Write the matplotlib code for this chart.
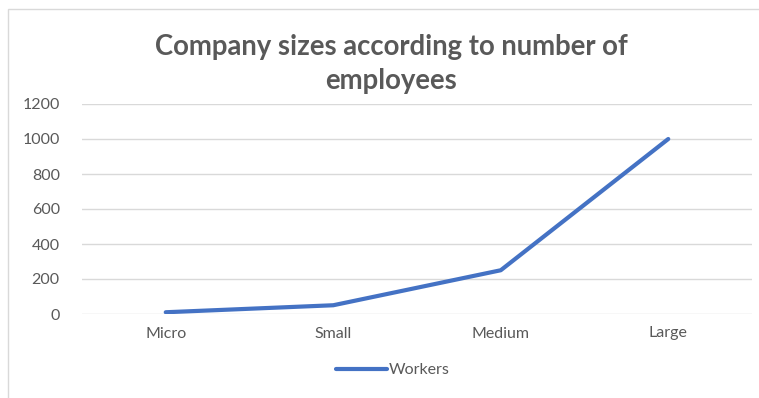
import matplotlib.pyplot as plt
from matplotlib.patches import Rectangle

categories = ["Micro", "Small", "Medium", "Large"]
workers = [10, 50, 250, 1000]
yticks = [0, 200, 400, 600, 800, 1000, 1200]

txt = "#595959"
plt.rcParams['font.family'] = ['Lato', 'DejaVu Sans']

fig = plt.figure(figsize=(7.59, 3.98), dpi=100)
ax = fig.add_axes([82 / 759, 1 - 314 / 398, 670 / 759, 210 / 398])

x = list(range(len(categories)))
ax.plot(x, workers, color="#4472C4", lw=3, solid_capstyle="round",
        solid_joinstyle="round", label="Workers")

ax.set_xlim(-0.5, len(categories) - 0.5)
ax.set_ylim(0, 1200)
ax.set_yticks(yticks)
ax.set_xticks(x)
ax.set_xticklabels(categories)
ax.grid(axis="y", color="#d9d9d9", lw=1)
ax.set_axisbelow(True)
for s in ax.spines.values():
    s.set_visible(False)
ax.tick_params(length=0, labelsize=11.5, labelcolor=txt)
ax.tick_params(axis="y", pad=16)
ax.tick_params(axis="x", pad=9)

fig.text(0.515, 1 - 64 / 398, "Company sizes according to number of\nemployees",
         ha="center", va="center", fontsize=19.8, fontweight="bold", color=txt,
         linespacing=1.4)

leg = fig.legend(loc="center", bbox_to_anchor=(393 / 759, 1 - 370 / 398),
                 frameon=False, fontsize=11.5, handlelength=3.2,
                 handletextpad=0.1)
for t in leg.get_texts():
    t.set_color(txt)

fig.patches.append(Rectangle((8 / 759, -0.01), 760 / 759, 1 - 9 / 398 + 0.01,
                             transform=fig.transFigure, fill=False,
                             edgecolor="#d9d9d9", lw=1))

fig.savefig("out.png", dpi=100)
